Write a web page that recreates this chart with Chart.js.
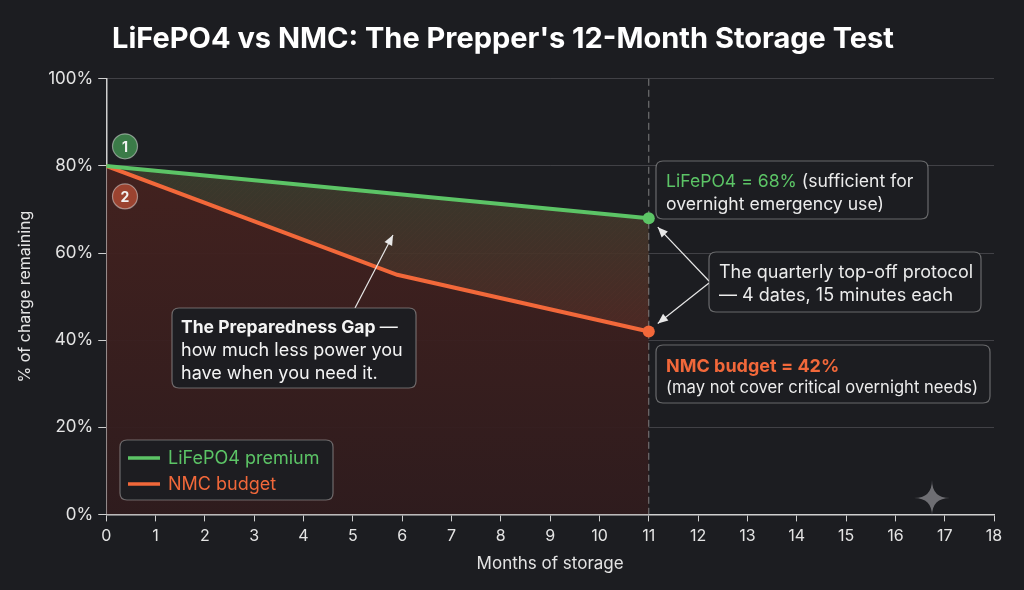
<!DOCTYPE html>
<html>
<head>
<meta charset="utf-8">
<script src="https://cdn.jsdelivr.net/npm/chart.js@4.4.0/dist/chart.umd.min.js"></script>
<style>
  html, body { margin: 0; padding: 0; background: #1c1d21; }
  #wrap { width: 1024px; height: 590px; }
</style>
</head>
<body>
<div id="wrap"><canvas id="chart" width="1024" height="590"></canvas></div>
<script>
// data
var lfpMonths = [0, 11];
var lfpValues = [80, 68];
var nmcMonths = [0, 5.9, 11];
var nmcValues = [80, 55, 42];
var seriesNames = ["LiFePO4 premium", "NMC budget"];
var checkMonth = 11;

var GREEN = '#5cc466';
var ORANGE = '#f2683a';
var FONT = 'Inter, "Noto Sans", sans-serif';

function toPoints(xs, ys){
  var out = [];
  for (var i = 0; i < xs.length; i++){
    out.push({x: xs[i], y: ys[i]});
  }
  return out;
}

function lastOnly(arr, r){
  return arr.map(function(v, i){ return i == arr.length - 1 ? r : 0; });
}

// thin diagonal hatch for the gap
function hatchPattern(){
  var c = document.createElement('canvas');
  c.width = 6; c.height = 6;
  var g = c.getContext('2d');
  g.strokeStyle = 'rgba(120,60,50,0.4)';
  g.lineWidth = 1;
  g.beginPath();
  g.moveTo(0, 6); g.lineTo(6, 0);
  g.moveTo(-1, 1); g.lineTo(1, -1);
  g.moveTo(5, 7); g.lineTo(7, 5);
  g.stroke();
  return g.createPattern(c, 'repeat');
}

function gapGradient(context){
  var chart = context.chart;
  var area = chart.chartArea;
  if (!area) return 'rgba(0,0,0,0)';
  var y = chart.scales.y;
  var grd = chart.ctx.createLinearGradient(0, y.getPixelForValue(80), 0, y.getPixelForValue(42));
  grd.addColorStop(0, 'rgba(58,62,46,0.9)');
  grd.addColorStop(1, 'rgba(82,42,36,0.9)');
  return grd;
}

function underGradient(context){
  var chart = context.chart;
  var area = chart.chartArea;
  if (!area) return 'rgba(0,0,0,0)';
  var grd = chart.ctx.createLinearGradient(0, area.top, 0, area.bottom);
  grd.addColorStop(0, 'rgba(74,36,32,0.95)');
  grd.addColorStop(1, 'rgba(48,28,30,0.95)');
  return grd;
}

function roundBox(ctx, x, y, w, h, r){
  ctx.beginPath();
  ctx.moveTo(x + r, y);
  ctx.lineTo(x + w - r, y);
  ctx.quadraticCurveTo(x + w, y, x + w, y + r);
  ctx.lineTo(x + w, y + h - r);
  ctx.quadraticCurveTo(x + w, y + h, x + w - r, y + h);
  ctx.lineTo(x + r, y + h);
  ctx.quadraticCurveTo(x, y + h, x, y + h - r);
  ctx.lineTo(x, y + r);
  ctx.quadraticCurveTo(x, y, x + r, y);
  ctx.closePath();
}

function box(ctx, x, y, w, h){
  roundBox(ctx, x, y, w, h, 7);
  ctx.fillStyle = 'rgba(28,29,33,0.96)';
  ctx.fill();
  ctx.strokeStyle = 'rgba(170,170,170,0.55)';
  ctx.lineWidth = 1.2;
  ctx.stroke();
}

function arrow(ctx, x1, y1, x2, y2){
  ctx.strokeStyle = '#e8e8e8';
  ctx.fillStyle = '#e8e8e8';
  ctx.lineWidth = 1.2;
  ctx.beginPath();
  ctx.moveTo(x1, y1); ctx.lineTo(x2, y2);
  ctx.stroke();
  var a = Math.atan2(y2 - y1, x2 - x1);
  ctx.beginPath();
  ctx.moveTo(x2, y2);
  ctx.lineTo(x2 - 11 * Math.cos(a - 0.4), y2 - 11 * Math.sin(a - 0.4));
  ctx.lineTo(x2 - 11 * Math.cos(a + 0.4), y2 - 11 * Math.sin(a + 0.4));
  ctx.closePath();
  ctx.fill();
}

function badge(ctx, x, y, fill, txt){
  ctx.beginPath();
  ctx.arc(x, y, 12.5, 0, Math.PI * 2);
  ctx.fillStyle = fill;
  ctx.fill();
  ctx.strokeStyle = 'rgba(230,230,230,0.5)';
  ctx.lineWidth = 1.2;
  ctx.stroke();
  ctx.fillStyle = '#f2f2f2';
  ctx.font = 'bold 14px ' + FONT;
  ctx.textAlign = 'center';
  ctx.textBaseline = 'middle';
  ctx.fillText(txt, x, y + 1);
}

// dashed marker line, drawn under the series
var markerPlugin = {
  id: 'marker',
  beforeDatasetsDraw: function(chart){
    var ctx = chart.ctx, area = chart.chartArea;
    var x = chart.scales.x.getPixelForValue(checkMonth);
    ctx.save();
    ctx.strokeStyle = 'rgba(150,150,150,0.8)';
    ctx.lineWidth = 1;
    ctx.setLineDash([7, 4]);
    ctx.beginPath();
    ctx.moveTo(x, area.top); ctx.lineTo(x, area.bottom);
    ctx.stroke();
    ctx.restore();
  }
};

var notesPlugin = {
  id: 'notes',
  afterDatasetsDraw: function(chart){
    var ctx = chart.ctx;
    var xs = chart.scales.x, ys = chart.scales.y;
    var px = function(v){ return xs.getPixelForValue(v); };
    var py = function(v){ return ys.getPixelForValue(v); };
    var gEnd = {x: px(lfpMonths[lfpMonths.length - 1]), y: py(lfpValues[lfpValues.length - 1])};
    var oEnd = {x: px(nmcMonths[nmcMonths.length - 1]), y: py(nmcValues[nmcValues.length - 1])};
    ctx.save();

    // badges
    badge(ctx, 125, py(84.5), '#3b7b48', '1');
    badge(ctx, 125, py(73), '#9b4330', '2');

    // LiFePO4 note
    box(ctx, 656, 161, 272, 58);
    ctx.textAlign = 'left';
    ctx.textBaseline = 'alphabetic';
    ctx.font = '17.6px ' + FONT;
    ctx.fillStyle = GREEN;
    var t1 = 'LiFePO4 = 68%';
    ctx.fillText(t1, 666, 187);
    var w1 = ctx.measureText(t1 + ' ').width;
    ctx.fillStyle = '#ececec';
    ctx.fillText('(sufficient for', 666 + w1, 187);
    ctx.fillText('overnight emergency use)', 666, 210);

    // quarterly note + arrows
    arrow(ctx, 709, 281, gEnd.x + 9, gEnd.y + 9);
    arrow(ctx, 709, 283, oEnd.x + 9, oEnd.y - 8);
    box(ctx, 709, 252, 272, 60);
    ctx.fillStyle = '#ececec';
    ctx.font = '18px ' + FONT;
    ctx.fillText('The quarterly top-off protocol', 719, 278);
    ctx.fillText('\u2014 4 dates, 15 minutes each', 719, 301);

    // NMC note
    box(ctx, 656, 345, 334, 58);
    ctx.font = 'bold 18px ' + FONT;
    ctx.fillStyle = ORANGE;
    ctx.fillText('NMC budget = 42%', 666, 372);
    ctx.font = '16.6px ' + FONT;
    ctx.fillStyle = '#ececec';
    ctx.fillText('(may not cover critical overnight needs)', 666, 393);

    // gap note + arrow
    arrow(ctx, 355, 308, 393, 235);
    box(ctx, 172, 308, 244, 80);
    ctx.font = 'bold 17.5px ' + FONT;
    ctx.fillStyle = '#f4f4f4';
    var t2 = 'The Preparedness Gap';
    ctx.fillText(t2, 181, 333);
    var w2 = ctx.measureText(t2 + ' ').width;
    ctx.font = '18px ' + FONT;
    ctx.fillText('\u2014', 181 + w2, 333);
    ctx.fillText('how much less power you', 181, 356);
    ctx.fillText('have when you need it.', 181, 379);

    // legend
    box(ctx, 120, 440, 213, 60);
    var cols = [GREEN, ORANGE];
    for (var i = 0; i < seriesNames.length; i++){
      var ly = 458 + i * 26;
      ctx.strokeStyle = cols[i];
      ctx.lineWidth = 3.5;
      ctx.beginPath();
      ctx.moveTo(128, ly); ctx.lineTo(160, ly);
      ctx.stroke();
      ctx.fillStyle = cols[i];
      ctx.font = '18px ' + FONT;
      ctx.textBaseline = 'middle';
      ctx.fillText(seriesNames[i], 168, ly + 1);
    }

    // sparkle
    var sx = 932, sy = 498, s = 18;
    ctx.fillStyle = 'rgba(120,120,124,0.9)';
    ctx.beginPath();
    ctx.moveTo(sx, sy - s);
    ctx.quadraticCurveTo(sx, sy, sx + s, sy);
    ctx.quadraticCurveTo(sx, sy, sx, sy + s);
    ctx.quadraticCurveTo(sx, sy, sx - s, sy);
    ctx.quadraticCurveTo(sx, sy, sx, sy - s);
    ctx.fill();

    ctx.restore();
  }
};

var ctx = document.getElementById('chart');
var chart = new Chart(ctx, {
  type: 'line',
  data: {
    datasets: [{
      label: seriesNames[0],
      data: toPoints(lfpMonths, lfpValues),
      borderColor: GREEN,
      backgroundColor: gapGradient,
      borderWidth: 4,
      pointRadius: lastOnly(lfpValues, 6),
      pointBackgroundColor: GREEN,
      pointBorderWidth: 0,
      fill: 1,
      order: 1
    },{
      label: seriesNames[1],
      data: toPoints(nmcMonths, nmcValues),
      borderColor: ORANGE,
      backgroundColor: underGradient,
      borderWidth: 4,
      pointRadius: lastOnly(nmcValues, 6),
      pointBackgroundColor: ORANGE,
      pointBorderWidth: 0,
      fill: 'origin',
      order: 2
    },{
      label: 'gap hatch',
      data: toPoints(lfpMonths, lfpValues),
      borderWidth: 0,
      borderColor: 'rgba(0,0,0,0)',
      backgroundColor: hatchPattern(),
      pointRadius: 0,
      fill: 1,
      order: 3
    }]
  },
  options: {
    responsive: false,
    animation: false,
    devicePixelRatio: 1,
    layout: { padding: { left: 12, right: 30, top: 22, bottom: 12 } },
    plugins: {
      legend: { display: false },
      tooltip: { enabled: false },
      filler: { drawTime: 'beforeDatasetsDraw' },
      title: {
        display: true,
        text: "LiFePO4 vs NMC: The Prepper's 12-Month Storage Test",
        color: '#ffffff',
        font: { family: FONT, size: 29, weight: 'bold' },
        padding: { top: 0, bottom: 22 }
      }
    },
    scales: {
      x: {
        type: 'linear',
        min: 0, max: 18,
        ticks: { stepSize: 1, color: '#e4e4e4', font: { family: FONT, size: 16 }, padding: 5 },
        grid: { drawOnChartArea: false, tickColor: '#cfcfcf', tickLength: 7 },
        border: { color: '#cfcfcf', width: 1.5 },
        title: { display: true, text: 'Months of storage', color: '#e4e4e4', font: { family: FONT, size: 17 }, padding: { top: 3 } }
      },
      y: {
        min: 0, max: 100,
        ticks: { stepSize: 20, color: '#e4e4e4', font: { family: FONT, size: 17 }, padding: 5,
          callback: function(v){ return v + '%'; } },
        grid: { color: 'rgba(110,110,116,0.45)', tickColor: '#cfcfcf', tickLength: 8 },
        border: { color: '#cfcfcf', width: 1.5 },
        title: { display: true, text: '% of charge remaining', color: '#e4e4e4', font: { family: FONT, size: 16 }, padding: { bottom: 8 } }
      }
    }
  },
  plugins: [markerPlugin, notesPlugin]
});
</script>
</body>
</html>
